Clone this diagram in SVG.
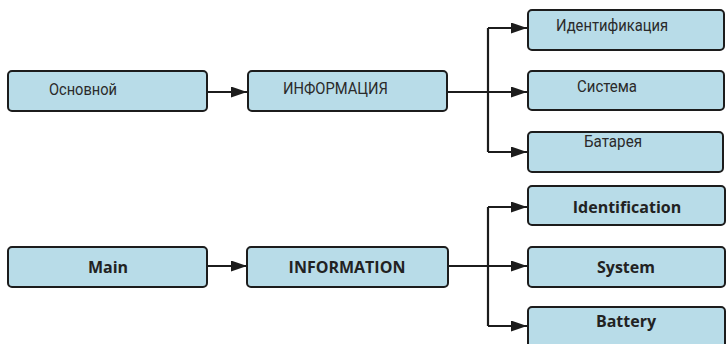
<svg xmlns="http://www.w3.org/2000/svg" width="726" height="344" viewBox="0 0 726 344">
<style>
.box{fill:#b8dce8;stroke:#1c1c1c;stroke-width:2}
.ru{font-family:Roboto,"Liberation Sans",sans-serif;font-size:16.5px;fill:#2a2a2a}
.en{font-family:"Open Sans","Liberation Sans",sans-serif;font-size:16px;font-weight:bold;fill:#222;text-anchor:middle}
.ln{fill:none;stroke:#1c1c1c;stroke-width:2.2}
</style>
<defs>
<marker id="ah" viewBox="0 0 16 11" refX="16" refY="5.5" markerWidth="16" markerHeight="11" markerUnits="userSpaceOnUse" orient="auto">
<path d="M0,0 L16,5.5 L0,11 Z" fill="#1c1c1c"/>
</marker>
</defs>
<rect width="726" height="344" fill="#fff"/>
<g id="connectors">
<path class="ln" d="M207,92 H247" marker-end="url(#ah)"/>
<path class="ln" d="M447,92 H527" marker-end="url(#ah)"/>
<path class="ln" d="M488,28 V152"/>
<path class="ln" d="M488,28 H527" marker-end="url(#ah)"/>
<path class="ln" d="M488,152 H527" marker-end="url(#ah)"/>
<path class="ln" d="M207,266 H247" marker-end="url(#ah)"/>
<path class="ln" d="M447,266 H527" marker-end="url(#ah)"/>
<path class="ln" d="M488,207 V326"/>
<path class="ln" d="M488,207 H527" marker-end="url(#ah)"/>
<path class="ln" d="M488,326 H527" marker-end="url(#ah)"/>
</g>
<g id="ru-main"><rect class="box" x="8" y="71" width="199" height="40" rx="4"/><text class="ru" x="49" y="95" textLength="68" lengthAdjust="spacingAndGlyphs">Основной</text></g>
<g id="ru-info"><rect class="box" x="248" y="71" width="199" height="40" rx="4"/><text class="ru" x="283" y="94" textLength="105" lengthAdjust="spacingAndGlyphs">ИНФОРМАЦИЯ</text></g>
<g id="ru-ident"><rect class="box" x="528" y="10" width="196" height="40" rx="4"/><text class="ru" x="556" y="31" textLength="112" lengthAdjust="spacingAndGlyphs">Идентификация</text></g>
<g id="ru-system"><rect class="box" x="528" y="71" width="196" height="39" rx="4"/><text class="ru" x="577" y="92" textLength="60" lengthAdjust="spacingAndGlyphs">Система</text></g>
<g id="ru-battery"><rect class="box" x="528" y="132" width="195" height="40" rx="4"/><text class="ru" x="584" y="147" textLength="58" lengthAdjust="spacingAndGlyphs">Батарея</text></g>
<g id="en-main"><rect class="box" x="8" y="247" width="199" height="40" rx="4"/><text class="en" x="108" y="273">Main</text></g>
<g id="en-info"><rect class="box" x="247" y="247" width="201" height="40" rx="4"/><text class="en" x="347" y="273">INFORMATION</text></g>
<g id="en-ident"><rect class="box" x="528" y="186" width="197" height="39" rx="4"/><text class="en" x="627" y="213">Identification</text></g>
<g id="en-system"><rect class="box" x="528" y="247" width="197" height="40" rx="4"/><text class="en" x="626" y="273">System</text></g>
<g id="en-battery"><rect class="box" x="528" y="307" width="197" height="42" rx="4"/><text class="en" x="626" y="327">Battery</text></g>
</svg>
